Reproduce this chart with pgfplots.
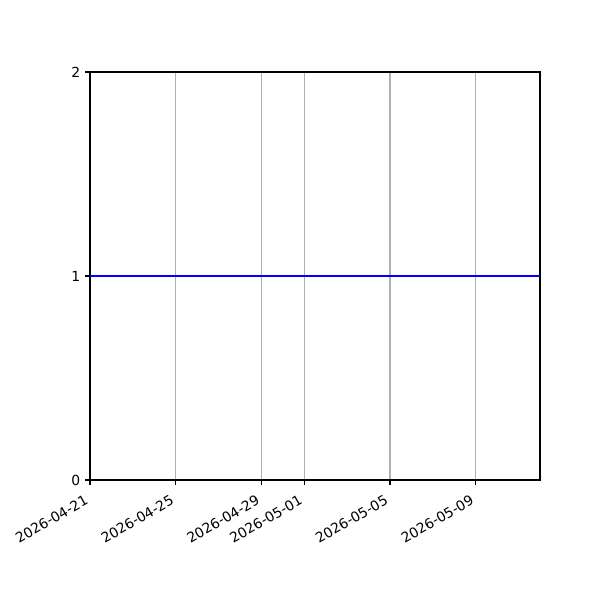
\documentclass[border=0pt]{standalone}
\usepackage{pgfplots}
\pgfplotsset{compat=1.18}
\usepackage{fontspec}
\setmainfont{DejaVu Sans}
\definecolor{gridgray}{HTML}{B0B0B0}
\begin{document}
\begin{tikzpicture}[x=0.72pt,y=0.72pt]
\useasboundingbox (-90,-120) rectangle (510,480);
\begin{axis}[
    at={(0,0)}, anchor=south west,
    scale only axis,
    width=324pt, height=293.76pt,
    xmin=0, xmax=21,
    ymin=0, ymax=2,
    ytick={0,1,2},
    xtick={0,4,8,10,14,18},
    xticklabels={2026-04-21,2026-04-25,2026-04-29,2026-05-01,2026-05-05,2026-05-09},
    x tick label style={rotate=30, anchor=north east, inner sep=1pt, xshift=-6pt, yshift=-2.5pt},
    xmajorgrids,
    major grid style={gridgray, line width=0.8pt},
    axis line style={line width=0.8pt},
    tick style={black, line width=0.8pt},
    tick align=outside,
    major tick length=3.5pt,
    xtick pos=bottom, ytick pos=left,
    /pgf/number format/assume math mode=true,
    font=\fontsize{10}{12}\selectfont,
]
\addplot[blue, line width=1.5pt] coordinates {
    (0,1) (1,1) (2,1) (3,1) (4,1) (5,1) (6,1) (7,1) (8,1) (9,1) (10,1)
    (11,1) (12,1) (13,1) (14,1) (15,1) (16,1) (17,1) (18,1) (19,1) (20,1) (21,1)
};
\end{axis}
\end{tikzpicture}
\end{document}
